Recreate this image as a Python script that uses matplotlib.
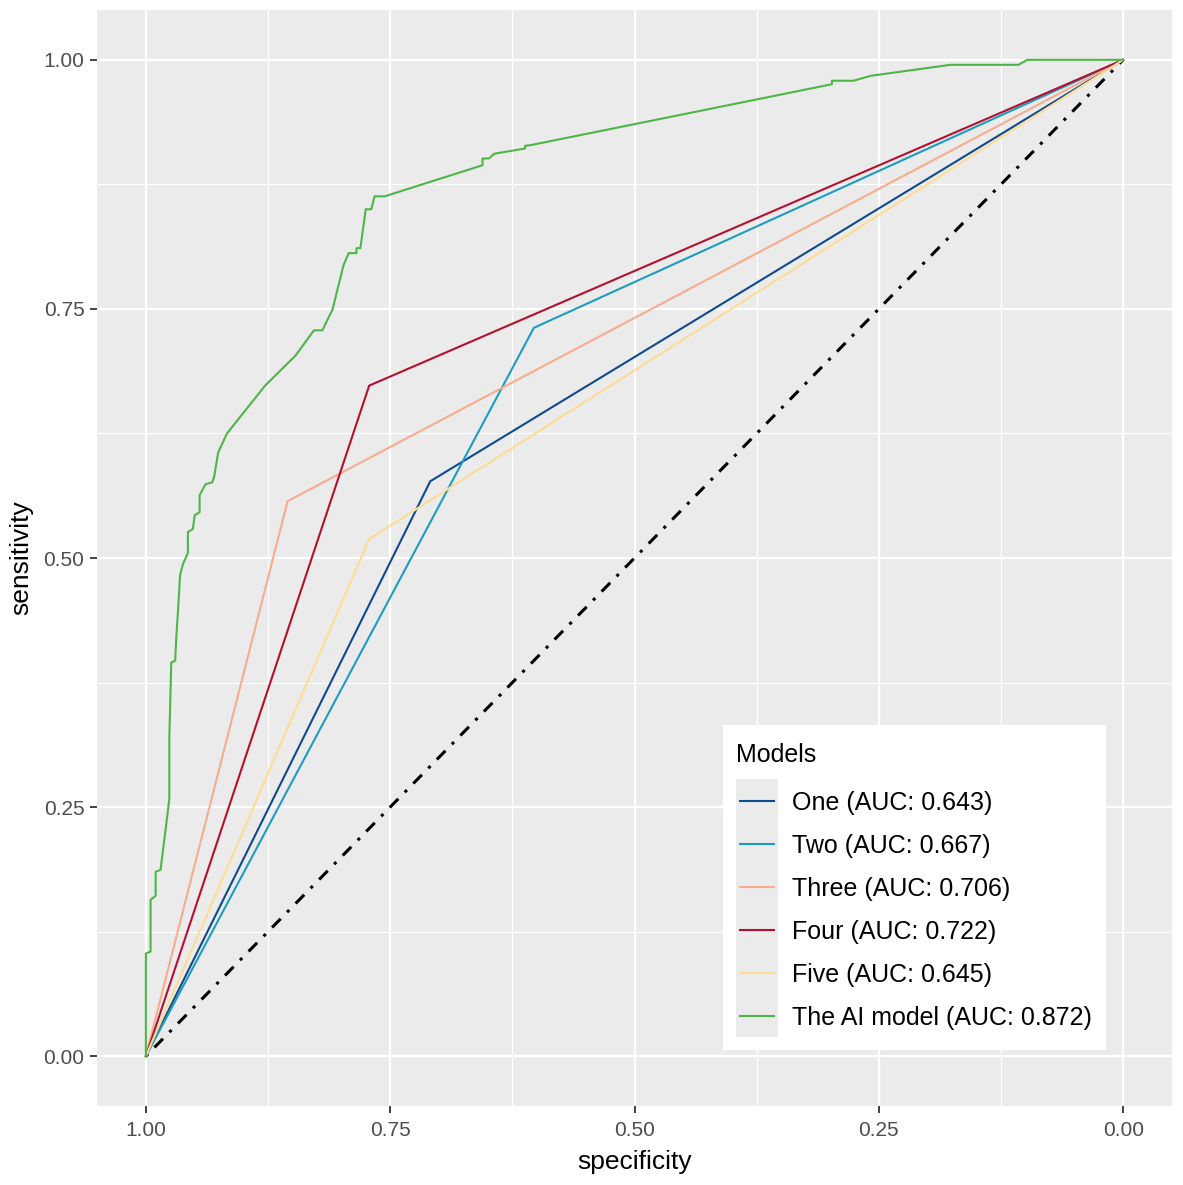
import matplotlib
matplotlib.use("Agg")
import matplotlib.pyplot as plt
from matplotlib.patches import Rectangle
from matplotlib.lines import Line2D

plt.rcParams["font.family"] = ["Liberation Sans", "DejaVu Sans"]

# ROC curves: (specificity, sensitivity)
models = ["One", "Two", "Three", "Four", "Five", "The AI model"]
aucs = [0.643, 0.667, 0.706, 0.722, 0.645, 0.872]
colors = ["#0E4A8E", "#1E9CC0", "#F7AD8D", "#B4102F", "#FDDC94", "#4DB647"]

spec_one = [1.0, 0.709, 0.0]
sens_one = [0.0, 0.577, 1.0]
spec_two = [1.0, 0.603, 0.0]
sens_two = [0.0, 0.731, 1.0]
spec_three = [1.0, 0.855, 0.0]
sens_three = [0.0, 0.557, 1.0]
spec_four = [1.0, 0.7715, 0.0]
sens_four = [0.0, 0.673, 1.0]
spec_five = [1.0, 0.7715, 0.0]
sens_five = [0.0, 0.519, 1.0]

spec_ai = [1.0, 1.0, 0.9952, 0.9952, 0.990, 0.990, 0.985, 0.9795, 0.976, 0.976,
           0.974, 0.970, 0.969, 0.967, 0.965, 0.962, 0.957, 0.957, 0.952, 0.950,
           0.945, 0.945, 0.939, 0.932, 0.930, 0.926, 0.917, 0.878, 0.847,
           0.828, 0.8194, 0.809, 0.7977, 0.7925, 0.7845, 0.7845, 0.7805,
           0.775, 0.7693, 0.7693, 0.766, 0.761, 0.761, 0.7556, 0.6555, 0.6555,
           0.6489, 0.6437, 0.612, 0.612, 0.6066, 0.298, 0.298, 0.2761, 0.258,
           0.1766, 0.107, 0.098, 0.0]
sens_ai = [0.0, 0.103, 0.105, 0.157, 0.161, 0.185, 0.187, 0.230, 0.258, 0.320,
           0.395, 0.397, 0.418, 0.449, 0.483, 0.494, 0.505, 0.526, 0.529, 0.543,
           0.546, 0.563, 0.574, 0.576, 0.582, 0.606, 0.625, 0.673, 0.703,
           0.7285, 0.7285, 0.7495, 0.794, 0.806, 0.806, 0.811, 0.811,
           0.850, 0.850, 0.850, 0.863, 0.863, 0.863, 0.863, 0.8942, 0.901,
           0.901, 0.9057, 0.911, 0.9137, 0.9143, 0.9755, 0.979, 0.979, 0.984,
           0.995, 0.995, 1.0, 1.0]

specs = [spec_one, spec_two, spec_three, spec_four, spec_five, spec_ai]
senss = [sens_one, sens_two, sens_three, sens_four, sens_five, sens_ai]

W, H = 1183, 1185
fig = plt.figure(figsize=(W / 100, H / 100), dpi=100)
ax = fig.add_axes([97 / W, 1 - 1106 / H, (1172 - 97) / W, (1106 - 10) / H])
ax.set_facecolor("#EBEBEB")
for s in ax.spines.values():
    s.set_visible(False)

ticks = [0.0, 0.25, 0.5, 0.75, 1.0]
minor = [0.125, 0.375, 0.625, 0.875]
ax.set_xlim(1.05, -0.05)
ax.set_ylim(-0.05, 1.05)
ax.set_xticks(ticks)
ax.set_xticklabels(["%.2f" % t for t in ticks])
ax.set_yticks(ticks)
ax.set_yticklabels(["%.2f" % t for t in ticks])
ax.set_xticks(minor, minor=True)
ax.set_yticks(minor, minor=True)
ax.grid(which="major", color="white", linewidth=1.6)
ax.grid(which="minor", color="white", linewidth=0.8)
ax.set_axisbelow(True)
ax.tick_params(which="major", length=5, width=1.3, color="#333333",
               labelsize=15, labelcolor="#4D4D4D", pad=4)
ax.tick_params(axis="x", which="major", pad=6)
ax.tick_params(which="minor", length=0)

# diagonal reference
ax.plot([1, 0], [0, 1], color="black", linewidth=2.2, dashes=(1, 3, 4, 3))

for sp, se, c in zip(specs, senss, colors):
    ax.plot(sp, se, color=c, linewidth=1.5)

ax.set_xlabel("specificity", fontsize=19, labelpad=7)
ax.set_ylabel("sensitivity", fontsize=19, labelpad=7)


# legend drawn in figure pixel coords (top-down)
def fx(x):
    return x / W


def fy(y):
    return 1 - y / H


fig.patches.append(Rectangle((fx(723), fy(1050)), (1106 - 723) / W, (1050 - 725) / H,
                             transform=fig.transFigure, facecolor="white",
                             edgecolor="none", zorder=5))
fig.patches.append(Rectangle((fx(736), fy(1037)), (778 - 736) / W, (1037 - 779) / H,
                             transform=fig.transFigure, facecolor="#EBEBEB",
                             edgecolor="none", zorder=6))
fig.text(fx(736), fy(755), "Models", fontsize=18, va="center", ha="left", zorder=7)
for i, (m, a, c) in enumerate(zip(models, aucs, colors)):
    yc = fy(801 + 43 * i)
    fig.add_artist(Line2D([fx(740), fx(774)], [yc, yc], color=c, linewidth=1.5,
                          transform=fig.transFigure, zorder=7))
    fig.text(fx(792), yc - 2 / H, "%s (AUC: %.3f)" % (m, a), fontsize=18,
             va="center", ha="left", zorder=7)

fig.savefig("out.png", dpi=100)
